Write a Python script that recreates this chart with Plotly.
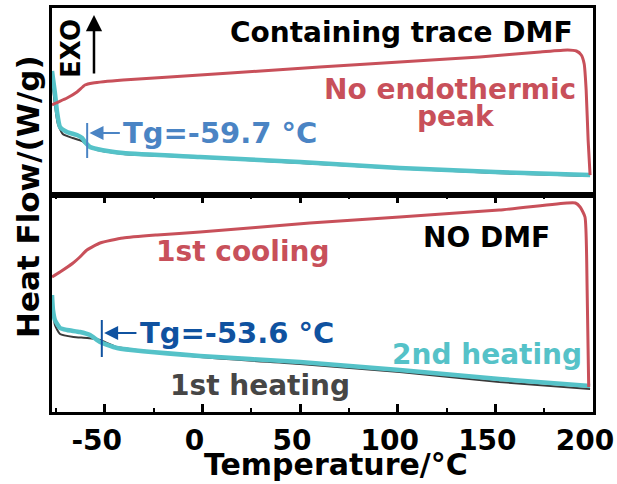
import plotly.graph_objects as go

# ---------------- data (arbitrary heat-flow units) ----------------
# Top panel: containing trace DMF
top_cool_T = [-77, -75, -69.3, -64.2, -60.1, -56, -40.6, -1.2, 30, 60, 101, 142, 173, 187, 191.5, 194, 195.5, 196.5, 197.5, 198.5]
top_cool_HF = [0.90, 0.92, 0.97, 1.03, 1.10, 1.12, 1.15, 1.20, 1.24, 1.28, 1.33, 1.38, 1.43, 1.45, 1.44, 1.40, 1.31, 1.05, 0.55, 0.20]

top_heat2_T = [-77, -75.5, -74.4, -72.9, -69.3, -64.2, -61.6, -60.1, -57.5, -54, -40.6, -1.2, 50, 101, 150, 198.5]
top_heat2_HF = [1.24, 1.02, 0.83, 0.68, 0.63, 0.60, 0.57, 0.53, 0.48, 0.46, 0.42, 0.38, 0.33, 0.27, 0.23, 0.20]

top_heat1_T = [-77, -75.5, -74, -71.5, -66.5, -61.6, -57.5, -54, -40.6, -1.2, 50, 101, 150, 198.5]
top_heat1_HF = [1.17, 0.90, 0.71, 0.61, 0.57, 0.54, 0.48, 0.45, 0.41, 0.375, 0.32, 0.265, 0.22, 0.19]

# Bottom panel: no DMF
bot_cool_T = [-77, -72.9, -66.2, -62.7, -59.1, -52.4, -40.6, -23.2, -1.2, 55, 101, 152, 186.7, 191, 193.4, 195.9, 197, 197.8]
bot_cool_HF = [1.35, 1.40, 1.49, 1.55, 1.62, 1.69, 1.74, 1.77, 1.80, 1.89, 1.95, 2.02, 2.09, 2.09, 2.05, 1.95, 1.22, 0.25]

bot_heat2_T = [-77, -76.5, -75.5, -72.9, -69.3, -62.7, -57.5, -52.4, -43.7, -1.2, 50, 101, 152, 198.5]
bot_heat2_HF = [1.17, 1.02, 0.92, 0.84, 0.82, 0.80, 0.77, 0.70, 0.64, 0.56, 0.50, 0.42, 0.33, 0.26]

bot_heat1_T = [-77, -76, -75.5, -72.9, -66, -59, -52.4, -43.7, -1.2, 50, 101, 152, 198.5]
bot_heat1_HF = [1.12, 0.94, 0.87, 0.78, 0.75, 0.74, 0.72, 0.65, 0.55, 0.48, 0.40, 0.30, 0.23]

tg_top = -59.7
tg_bot = -53.6
x_ticks = [-50, 0, 50, 100, 150, 200]
x_tick_text = ["-50", "0", "50", "100", "150", "200"]

# ---------------- styling ----------------
RED = "#c8505a"
CYAN = "#55c2c8"
BLACK = "#3a3a3a"
BLUE_TOP = "#4a84c4"
BLUE_BOT = "#0f52a0"
FONT = "DejaVu Sans"

W, H = 617, 484
L, R, T, B = 52, 24, 8, 72
PW, PH = W - L - R, H - T - B

def px_x(px):
    return (px - L) / PW

def px_y(py):
    return (H - B - py) / PH

fig = go.Figure()

def add(x, y, color, width, xa, ya):
    fig.add_trace(go.Scatter(x=x, y=y, mode="lines", xaxis=xa, yaxis=ya,
                             line=dict(color=color, width=width, shape="spline", smoothing=0.5),
                             showlegend=False, hoverinfo="skip"))

# top panel
add(top_heat1_T, top_heat1_HF, BLACK, 2, "x2", "y2")
add(top_heat2_T, top_heat2_HF, CYAN, 4.5, "x2", "y2")
add(top_cool_T, top_cool_HF, RED, 3, "x2", "y2")
# bottom panel
add(bot_heat1_T, bot_heat1_HF, BLACK, 2, "x", "y")
add(bot_heat2_T, bot_heat2_HF, CYAN, 4.5, "x", "y")
add(bot_cool_T, bot_cool_HF, RED, 3, "x", "y")

split = 217 / 404

axis_common = dict(showgrid=False, zeroline=False, showline=True, linecolor="black",
                   linewidth=3, mirror=True, automargin=False)

fig.update_layout(
    width=W, height=H,
    margin=dict(l=L, r=R, t=T, b=B, autoexpand=False),
    paper_bgcolor="white", plot_bgcolor="white",
    font=dict(family=FONT, color="black"),
    xaxis=dict(axis_common, range=[-77, 200], tickmode="array", tickvals=x_ticks, ticktext=x_tick_text,
               ticks="inside", mirror="ticks", ticklen=8, tickwidth=3, tickcolor="black",
               minor=dict(dtick=25, tick0=0, ticks="inside", ticklen=4, tickwidth=2, tickcolor="black"),
               tickfont=dict(family=FONT, size=28, color="black", weight="bold"),
               ticklabelshift=-8, ticklabelstandoff=1, anchor="y"),
    yaxis=dict(axis_common, domain=[0, split], range=[0, 2.17], ticks="", showticklabels=False, anchor="x"),
    xaxis2=dict(axis_common, range=[-77, 200], ticks="", showticklabels=False, anchor="y2", matches="x"),
    yaxis2=dict(axis_common, domain=[split, 1], range=[0, 1.87], ticks="", showticklabels=False, anchor="x2"),
)

# Tg vertical markers
fig.add_shape(type="line", xref="x2", yref="y2", x0=-59, x1=-59, y0=0.37, y1=0.72,
              line=dict(color=BLUE_TOP, width=2))
fig.add_shape(type="line", xref="x", yref="y", x0=-51.5, x1=-51.5, y0=0.55, y1=0.92,
              line=dict(color=BLUE_BOT, width=2))

ann = []
def txt(x, y, s, color, size, xref, yref, xanchor="center", angle=0):
    ann.append(dict(x=x, y=y, text=s, xref=xref, yref=yref, showarrow=False,
                    xanchor=xanchor, yanchor="middle", textangle=angle,
                    font=dict(family=FONT, size=size, color=color, weight="bold")))

# Tg arrows
ann.append(dict(x=-57.8, y=0.62, ax=-41.5, ay=0.62, xref="x2", yref="y2", axref="x2", ayref="y2",
                text="", showarrow=True, arrowhead=2, arrowsize=1.4, arrowwidth=2, arrowcolor=BLUE_TOP, standoff=0))
ann.append(dict(x=-50.3, y=0.79, ax=-33, ay=0.79, xref="x", yref="y", axref="x", ayref="y",
                text="", showarrow=True, arrowhead=2, arrowsize=1.4, arrowwidth=2, arrowcolor=BLUE_BOT, standoff=0))
# EXO arrow
ann.append(dict(x=-55.5, y=1.80, ax=-55.5, ay=1.20, xref="x2", yref="y2", axref="x2", ayref="y2",
                text="", showarrow=True, arrowhead=2, arrowsize=1.3, arrowwidth=2.5, arrowcolor="black", standoff=0))

txt(-41.5, 0.62, "Tg=-59.7 °C", BLUE_TOP, 29, "x2", "y2", xanchor="left")
txt(-33, 0.79, "Tg=-53.6 °C", BLUE_BOT, 29, "x", "y", xanchor="left")
txt(-67.3, 1.47, "EXO", "black", 26, "x2", "y2", angle=-90)
txt(102.2, 1.63, "Containing trace DMF", "black", 28, "x2", "y2")
txt(126.8, 1.06, "No endothermic", RED, 28, "x2", "y2")
txt(129.9, 0.79, "peak", RED, 28, "x2", "y2")
txt(145.7, 1.75, "NO DMF", "black", 28, "x", "y")
txt(20.8, 1.61, "1st cooling", RED, 28, "x", "y")
txt(145.7, 0.58, "2nd heating", CYAN, 28, "x", "y")
txt(29.5, 0.27, "1st heating", "#464646", 28, "x", "y")

# axis titles
ann.append(dict(x=px_x(336), y=px_y(465), xref="paper", yref="paper", showarrow=False,
                text="Temperature/°C", xanchor="center", yanchor="middle",
                font=dict(family=FONT, size=30, color="black", weight="bold")))
ann.append(dict(x=px_x(28), y=px_y(197), xref="paper", yref="paper", showarrow=False,
                text="Heat Flow/(W/g)", xanchor="center", yanchor="middle", textangle=-90,
                font=dict(family=FONT, size=31, color="black", weight="bold")))

fig.update_layout(annotations=ann)
fig.write_html("out.html", config={"displayModeBar": False},
               post_script="document.body.style.margin='0';document.body.style.padding='0';")
